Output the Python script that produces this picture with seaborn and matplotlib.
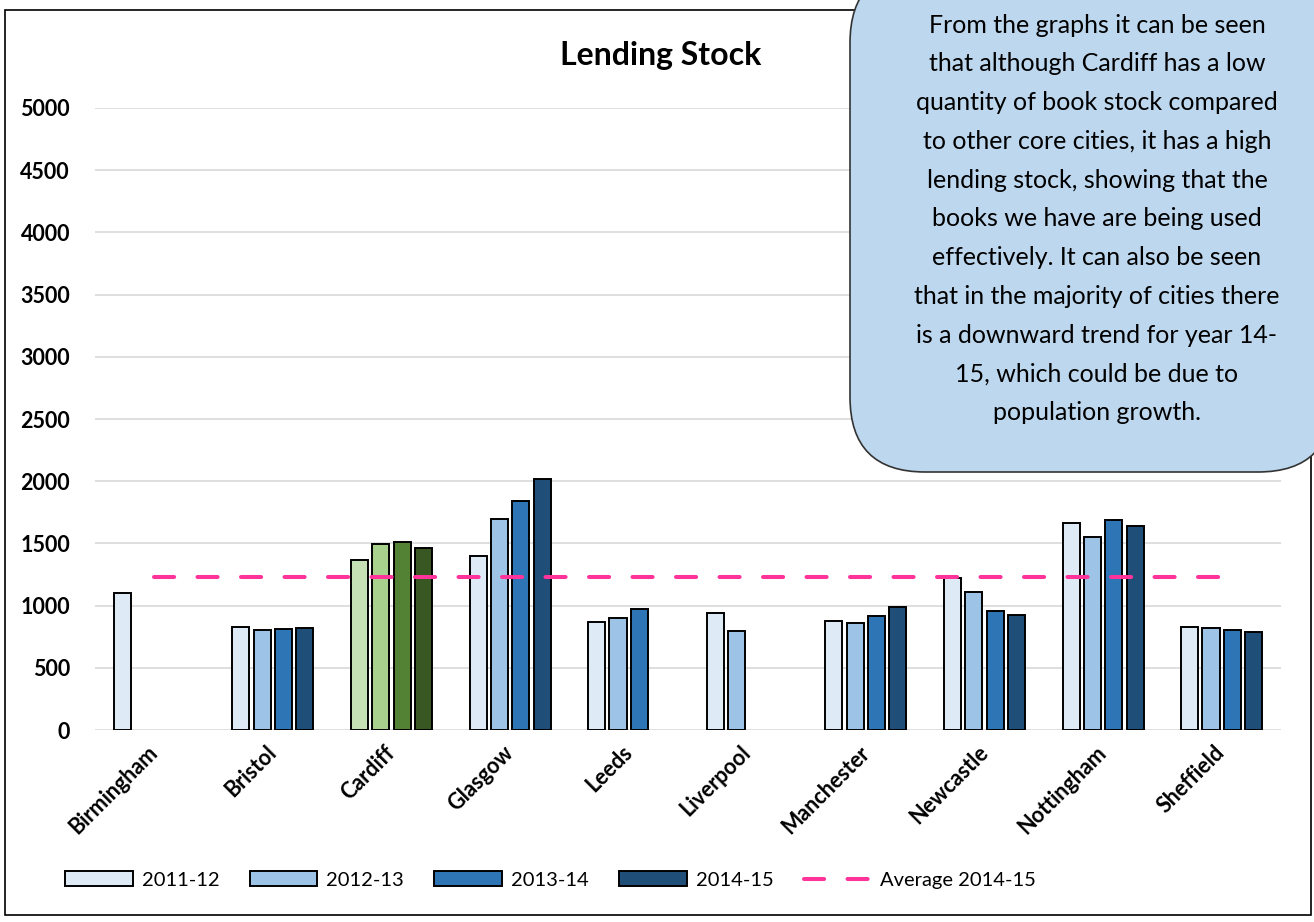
import numpy as np
import pandas as pd
import matplotlib.pyplot as plt
import seaborn as sns
from matplotlib.patches import FancyBboxPatch, Rectangle, Patch
from matplotlib.lines import Line2D

cities = ['Birmingham', 'Bristol', 'Cardiff', 'Glasgow', 'Leeds', 'Liverpool',
          'Manchester', 'Newcastle', 'Nottingham', 'Sheffield']
years = ['2011-12', '2012-13', '2013-14', '2014-15']
stock_2011 = [1100, 825, 1365, 1400, 868, 940, 875, 1225, 1665, 828]
stock_2012 = [np.nan, 800, 1495, 1695, 900, 798, 863, 1110, 1550, 822]
stock_2013 = [np.nan, 814, 1510, 1840, 975, np.nan, 919, 960, 1690, 806]
stock_2014 = [np.nan, 822, 1463, 2015, np.nan, np.nan, 986, 928, 1638, 790]
avg_2014 = [1233] * len(cities)
yticks = list(range(0, 5001, 500))

blues = ['#DEEBF7', '#9DC3E6', '#2E75B6', '#1F4E79']
greens = ['#C5E0B4', '#A9D18E', '#548235', '#385723']
pink = '#FF3399'

note = ("From the graphs it can be seen\n"
        "that although Cardiff has a low\n"
        "quantity of book stock compared\n"
        "to other core cities, it has a high\n"
        "lending stock, showing that the\n"
        "books we have are being used\n"
        "effectively. It can also be seen\n"
        "that in the majority of cities there\n"
        "is a downward trend for year 14-\n"
        "15, which could be due to\n"
        "population growth.")

df = pd.DataFrame({
    'city': cities * 4,
    'year': [y for y in years for _ in cities],
    'stock': stock_2011 + stock_2012 + stock_2013 + stock_2014,
})

sns.set_style('white')
plt.rcParams['font.family'] = ['Lato', 'DejaVu Sans']
plt.rcParams['text.color'] = 'black'
plt.rcParams['xtick.labelcolor'] = 'black'
plt.rcParams['ytick.labelcolor'] = 'black'

W, H = 1314, 922
fig = plt.figure(figsize=(W / 100, H / 100), dpi=100)
ax = fig.add_axes([95 / W, 1 - 730 / H, 1186 / W, 622 / H])

sns.barplot(data=df, x='city', y='stock', hue='year', order=cities, hue_order=years,
            palette=blues, saturation=1, edgecolor='black', linewidth=1.4, width=0.72,
            gap=0.2, legend=False, ax=ax)

# Cardiff is highlighted in green
ci = cities.index('Cardiff')
for i, cont in enumerate(ax.containers):
    for bar in cont:
        if round(bar.get_x() + bar.get_width() / 2) == ci:
            bar.set_facecolor(greens[i])

sns.lineplot(x=np.arange(len(cities)), y=avg_2014, ax=ax, color=pink, linewidth=2.9,
             linestyle=(0, (5, 5.8)), dash_capstyle='round', legend=False)

ax.set_xlim(-0.5, len(cities) - 0.5)
ax.set_ylim(0, 5000)
ax.set_yticks(yticks)
ax.set_yticklabels([str(v) for v in yticks], fontsize=15.5, fontweight='bold')
ax.set_xticks(range(len(cities)))
ax.set_xticklabels(cities, rotation=45, ha='right', va='center', rotation_mode='anchor',
                   fontsize=15.5, fontweight='bold')
ax.tick_params(axis='x', length=0, pad=14)
ax.tick_params(axis='y', length=0, pad=18)
ax.set_xlabel('')
ax.set_ylabel('')
ax.yaxis.grid(True, color='#D9D9D9', linewidth=1.2)
ax.set_axisbelow(True)
sns.despine(ax=ax, left=True, bottom=True)

fig.text(661 / W, 1 - 55 / H, 'Lending Stock', ha='center', va='center',
         fontsize=23, fontweight='bold')

handles = [Patch(facecolor=c, edgecolor='black', linewidth=1.4) for c in blues]
handles.append(Line2D([0], [0], color=pink, linewidth=2.9, linestyle=(0, (5, 5.8)),
                      dash_capstyle='round'))
fig.legend(handles, years + ['Average 2014-15'], loc='center left',
           bbox_to_anchor=(47 / W, 1 - 880 / H), ncol=5, frameon=False, fontsize=14.5,
           handlelength=3.35, handleheight=0.7, handletextpad=0.46, columnspacing=1.5)

# outer chart frame
fig.patches.append(Rectangle((0.05, 0.07), 13.06, 9.05, transform=fig.dpi_scale_trans,
                             fill=False, edgecolor='black', linewidth=1.2, zorder=1))

# callout box
fig.patches.append(FancyBboxPatch((8.50, 4.50), 4.83, 5.04,
                                  boxstyle='round,pad=0,rounding_size=0.75',
                                  transform=fig.dpi_scale_trans, facecolor='#BDD7EE',
                                  edgecolor='#333333', linewidth=1.2, zorder=5))
fig.text(1097 / W, 1 - 219 / H, note, ha='center', va='center', fontsize=18,
         linespacing=1.83, zorder=6)

fig.savefig('out.png', dpi=100)
